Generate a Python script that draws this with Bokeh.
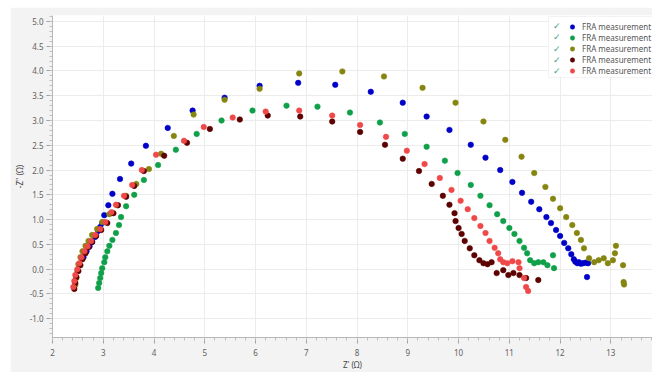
import numpy as np
from bokeh.plotting import figure
from bokeh.models import (FixedTicker, NumeralTickFormatter, Legend, LegendItem,
                          Label, BoxAnnotation, Range1d)
from bokeh.embed import file_html
from bokeh.resources import INLINE

series_names = ["FRA measurement"] * 5

blue_x = [2.61, 2.67, 2.73, 2.78, 2.84, 2.90, 2.94, 2.98, 3.02, 3.10, 3.18, 3.33, 3.55, 3.84, 4.27,
          4.76, 5.39, 6.08, 6.84, 7.57, 8.27, 8.90, 9.37, 9.82, 10.24, 10.53, 10.82, 11.06, 11.25, 11.43,
          11.59, 11.73, 11.82, 11.92, 12.00, 12.08, 12.16, 12.22, 12.27, 12.30, 12.34, 12.37, 12.41, 12.45,
          12.50, 12.55, 12.53]
blue_y = [0.24, 0.36, 0.46, 0.55, 0.65, 0.77, 0.85, 0.93, 1.09, 1.29, 1.52, 1.82, 2.13, 2.49, 2.85,
          3.20, 3.46, 3.70, 3.76, 3.72, 3.58, 3.36, 3.08, 2.81, 2.51, 2.25, 2.00, 1.76, 1.54, 1.36,
          1.21, 1.05, 0.93, 0.79, 0.67, 0.53, 0.42, 0.30, 0.20, 0.15, 0.12, 0.14, 0.11, 0.12,
          0.13, 0.12, -0.16]

green_x = [2.90, 2.92, 2.94, 2.96, 2.98, 3.02, 3.04, 3.08, 3.12, 3.18, 3.25, 3.31, 3.35, 3.45, 3.61,
           3.80, 4.08, 4.43, 4.84, 5.33, 5.94, 6.61, 7.22, 7.86, 8.45, 8.94, 9.37, 9.73, 9.98, 10.24,
           10.43, 10.61, 10.76, 10.88, 11.00, 11.10, 11.20, 11.29, 11.35, 11.41, 11.49, 11.57, 11.67,
           11.75, 11.86, 11.88]
green_y = [-0.38, -0.28, -0.18, -0.08, 0.02, 0.14, 0.24, 0.36, 0.47, 0.59, 0.73, 0.89, 1.05, 1.27, 1.50,
           1.80, 2.10, 2.41, 2.73, 3.00, 3.20, 3.30, 3.28, 3.16, 2.96, 2.73, 2.47, 2.19, 1.94, 1.70,
           1.48, 1.29, 1.11, 0.97, 0.83, 0.71, 0.57, 0.43, 0.32, 0.18, 0.12, 0.14, 0.14,
           0.08, 0.28, 0.02]

olive_x = [2.45, 2.47, 2.49, 2.51, 2.55, 2.59, 2.65, 2.71, 2.78, 2.88, 2.98, 3.12, 3.27, 3.45, 3.65,
           3.90, 4.14, 4.39, 4.78, 5.39, 6.08, 6.86, 7.71, 8.53, 9.29, 9.94, 10.49, 10.92, 11.24, 11.49,
           11.71, 11.86, 12.00, 12.12, 12.24, 12.33, 12.41, 12.47, 12.57, 12.67, 12.76, 12.86, 12.94,
           13.04, 13.10, 13.08, 13.24, 13.25, 13.26]
olive_y = [-0.32, -0.18, -0.04, 0.10, 0.24, 0.36, 0.47, 0.57, 0.69, 0.81, 0.95, 1.11, 1.29, 1.48, 1.72,
           2.02, 2.33, 2.69, 3.12, 3.42, 3.64, 3.95, 3.99, 3.89, 3.66, 3.36, 2.98, 2.61, 2.27, 1.94,
           1.66, 1.42, 1.23, 1.05, 0.89, 0.73, 0.59, 0.42, 0.22, 0.14, 0.18, 0.22, 0.12,
           0.18, 0.47, 0.32, 0.08, -0.26, -0.31]

dark_x = [2.43, 2.45, 2.47, 2.51, 2.55, 2.59, 2.65, 2.71, 2.78, 2.86, 2.96, 3.08, 3.20, 3.29, 3.45,
          3.61, 3.80, 4.20, 4.65, 5.10, 5.69, 6.24, 6.88, 7.51, 8.06, 8.55, 8.90, 9.22, 9.47, 9.69,
          9.82, 9.92, 9.94, 10.00, 10.06, 10.12, 10.22, 10.31, 10.41, 10.49, 10.57, 10.65, 10.75,
          10.88, 10.98, 11.08, 11.20, 11.33, 11.57]
dark_y = [-0.40, -0.28, -0.16, -0.04, 0.08, 0.20, 0.32, 0.44, 0.55, 0.67, 0.79, 0.93, 1.13, 1.29, 1.46,
          1.68, 1.98, 2.29, 2.55, 2.83, 3.02, 3.10, 3.08, 2.98, 2.77, 2.51, 2.23, 1.98, 1.72, 1.48,
          1.30, 1.13, 0.97, 0.83, 0.71, 0.57, 0.42, 0.28, 0.18, 0.12, 0.10, 0.14, -0.08,
          -0.02, -0.12, -0.08, -0.12, -0.18, -0.22]

red_x = [2.41, 2.43, 2.45, 2.49, 2.53, 2.57, 2.63, 2.69, 2.76, 2.84, 2.94, 3.04, 3.16, 3.25, 3.41,
         3.57, 3.76, 4.04, 4.59, 4.98, 5.55, 6.20, 6.86, 7.51, 8.06, 8.57, 8.98, 9.33, 9.63, 9.86,
         10.04, 10.18, 10.31, 10.43, 10.53, 10.61, 10.71, 10.78, 10.82, 10.88, 10.96, 11.06, 11.18,
         11.20, 11.29, 11.33, 11.37]
red_y = [-0.36, -0.24, -0.12, 0.00, 0.12, 0.24, 0.36, 0.46, 0.57, 0.69, 0.81, 0.95, 1.15, 1.30, 1.48,
         1.70, 2.00, 2.31, 2.59, 2.87, 3.06, 3.18, 3.20, 3.10, 2.91, 2.67, 2.39, 2.12, 1.84, 1.60,
         1.38, 1.21, 1.03, 0.87, 0.73, 0.57, 0.43, 0.32, 0.20, 0.14, 0.12, 0.16, 0.14,
         0.02, -0.18, -0.36, -0.44]

x_ticks = list(range(2, 14))
y_ticks = [-1.0, -0.5, 0.0, 0.5, 1.0, 1.5, 2.0, 2.5, 3.0, 3.5, 4.0, 4.5, 5.0]

colors = ["#0000c8", "#10a04a", "#858510", "#5c0000", "#f04848"]
xs = [blue_x, green_x, olive_x, dark_x, red_x]
ys = [blue_y, green_y, olive_y, dark_y, red_y]

FONT = "Noto Sans"

p = figure(width=642, height=365, x_range=Range1d(2.0, 13.82), y_range=Range1d(-1.38, 5.12),
           output_backend="svg", toolbar_location=None,
           min_border_left=39, min_border_right=0, min_border_top=8, min_border_bottom=28,
           background_fill_color="white", border_fill_color="#f3f3f3",
           outline_line_color=None)
p.margin = (7, 0, 4, 10)

renderers = []
for sx, sy, c in zip(xs, ys, colors):
    r = p.scatter(sx, sy, size=5.5, fill_color=c, line_color=c, line_alpha=0.6)
    renderers.append(r)

p.xaxis.ticker = FixedTicker(ticks=x_ticks, minor_ticks=list(np.round(np.arange(2.0, 13.81, 0.2), 2)))
p.yaxis.ticker = FixedTicker(ticks=y_ticks, minor_ticks=list(np.round(np.arange(-1.3, 5.11, 0.1), 2)))
p.yaxis.formatter = NumeralTickFormatter(format="0.0")

for ax in (p.xaxis, p.yaxis):
    ax.axis_line_color = "#b8b8b8"
    ax.major_tick_line_color = "#a0a0a0"
    ax.minor_tick_line_color = "#c0c0c0"
    ax.major_tick_out = 6
    ax.major_tick_in = 0
    ax.minor_tick_out = 3
    ax.minor_tick_in = 0
    ax.major_label_text_font = FONT
    ax.major_label_text_font_size = "8px"
    ax.major_label_text_color = "#606060"
    ax.major_label_standoff = 3
    ax.axis_label_text_font = FONT
    ax.axis_label_text_font_size = "8px"
    ax.axis_label_text_font_style = "normal"
    ax.axis_label_text_color = "#444444"
    ax.axis_label_standoff = 2

p.xaxis.major_label_standoff = 5
p.xaxis.axis_label_standoff = 0

p.xaxis.axis_label = "Z' (Ω)"
p.yaxis.axis_label = "-Z'' (Ω)"

p.xgrid.grid_line_color = "#ececec"
p.ygrid.grid_line_color = "#ececec"

# legend frame
box = BoxAnnotation(left=496, right=603, top=321, bottom=260,
                    left_units="screen", right_units="screen", top_units="screen", bottom_units="screen",
                    fill_color="white", fill_alpha=1.0, line_color="#d6d6d6", line_width=1)
p.add_layout(box)

items = [LegendItem(label=n, renderers=[r]) for n, r in zip(series_names, renderers)]
legend = Legend(items=items, location=(512, 261), padding=0, margin=0, spacing=0,
                glyph_width=16, glyph_height=11, label_height=11, label_standoff=2,
                label_text_font=FONT, label_text_font_size="8px", label_text_color="#555555",
                border_line_color=None, background_fill_alpha=0)
p.add_layout(legend)

for i in range(5):
    p.add_layout(Label(x=504, y=312 - i * 11.3, x_units="screen", y_units="screen", text="✓",
                       text_font=FONT, text_font_size="9px", text_color="#3aa080",
                       text_align="center", text_baseline="middle"))

open("out.html", "w").write(file_html(p, INLINE))
